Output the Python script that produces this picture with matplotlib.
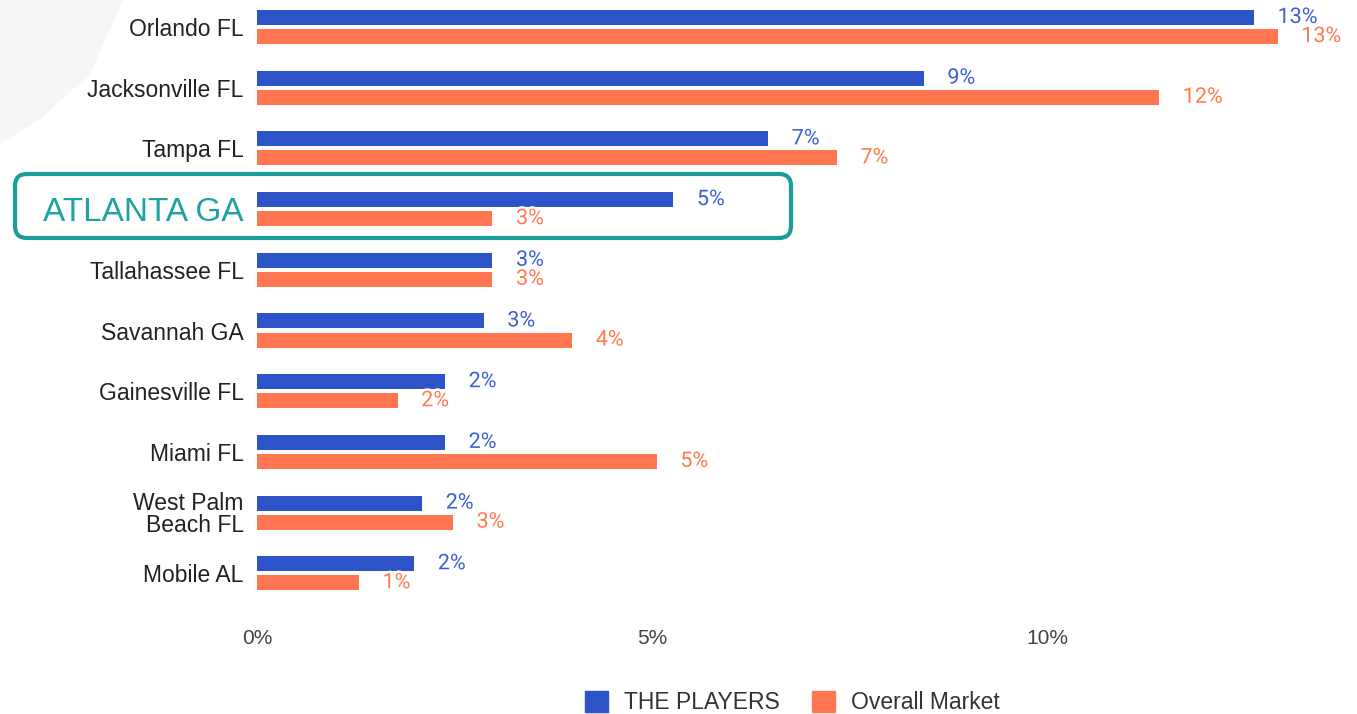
import matplotlib
matplotlib.use("Agg")
import matplotlib.pyplot as plt
import matplotlib.patheffects as pe
from matplotlib.patches import FancyBboxPatch, Polygon, Patch
import numpy as np

# data
cities = ["Orlando FL", "Jacksonville FL", "Tampa FL", "ATLANTA GA", "Tallahassee FL",
          "Savannah GA", "Gainesville FL", "Miami FL", "West Palm\nBeach FL", "Mobile AL"]
players = [12.62, 8.44, 6.47, 5.27, 2.98, 2.87, 2.38, 2.38, 2.09, 1.99]
market = [12.92, 11.42, 7.34, 2.98, 2.98, 3.99, 1.78, 5.06, 2.48, 1.29]
players_lbl = [13, 9, 7, 5, 3, 3, 2, 2, 2, 2]
market_lbl = [13, 12, 7, 3, 3, 4, 2, 5, 3, 1]
xticks = [0, 5, 10]

BLUE = "#2d53c8"
ORANGE = "#ff7650"
BLUE_T = "#3d5fd6"
ORANGE_T = "#ff7a50"
TEAL = "#1ea3a0"

W, H = 1357, 714
fig = plt.figure(figsize=(W / 100, H / 100), dpi=100)

# faint background swoosh at the top left
bg = Polygon([(0, 7.14), (1.23, 7.14), (0.9, 6.4), (0.4, 5.95), (0, 5.7)],
             closed=True, transform=fig.dpi_scale_trans, facecolor="#f6f6f6",
             edgecolor="none", zorder=0)
fig.patches.append(bg)

ax = fig.add_axes([257 / W, 114 / H, 1090 / W, 600 / H])
ax.patch.set_alpha(0)

y = np.arange(len(cities))
off = 0.157
h = 0.247
ax.barh(y - off, players, height=h, color=BLUE, zorder=2)
ax.barh(y + off, market, height=h, color=ORANGE, zorder=2)

halo = [pe.withStroke(linewidth=3.5, foreground="white")]
for i in range(len(cities)):
    ax.annotate(f"{players_lbl[i]}%", (players[i], y[i] - off), xytext=(17, 0),
                textcoords="offset points", va="center", ha="left", fontsize=15.5,
                family="Roboto", color=BLUE_T, path_effects=halo, zorder=3)
    ax.annotate(f"{market_lbl[i]}%", (market[i], y[i] + off), xytext=(17, 0),
                textcoords="offset points", va="center", ha="left", fontsize=15.5,
                family="Roboto", color=ORANGE_T, path_effects=halo, zorder=3)

ax.set_xlim(0, 1090 / 79)
ax.set_ylim((600 - 27) / 60.7, -27 / 60.7)
ax.set_yticks(y)
ax.set_yticklabels(cities, family="Liberation Sans", fontsize=16.5, color="#222222")
ax.set_xticks(xticks)
ax.set_xticklabels([f"{t}%" for t in xticks], family="Liberation Sans", fontsize=15,
                   color="#444444")
ax.tick_params(axis="y", length=0, pad=9.5)
ax.tick_params(axis="x", length=0, pad=21)
for s in ax.spines.values():
    s.set_visible(False)

for t in ax.get_yticklabels():
    if t.get_text() == "ATLANTA GA":
        t.set_color(TEAL)
        t.set_fontsize(24)
    if "\n" in t.get_text():
        t.set_linespacing(0.95)

# highlight box round Atlanta
box = FancyBboxPatch((0.15, (H - 238) / 100), 7.76, 0.64,
                     boxstyle="round,pad=0,rounding_size=0.12",
                     transform=fig.dpi_scale_trans, facecolor="none",
                     edgecolor="#1a9e9a", linewidth=3)
fig.patches.append(box)

handles = [Patch(color=BLUE, label="THE PLAYERS"), Patch(color=ORANGE, label="Overall Market")]
leg = fig.legend(handles=handles, loc="center", bbox_to_anchor=(0.584, 0.016), ncol=2,
                 frameon=False, handlelength=1.0, handleheight=1.0, handletextpad=0.7,
                 columnspacing=1.4, prop={"family": "Liberation Sans", "size": 16.5})
for t in leg.get_texts():
    t.set_color("#333333")

fig.savefig("out.png", dpi=100)
